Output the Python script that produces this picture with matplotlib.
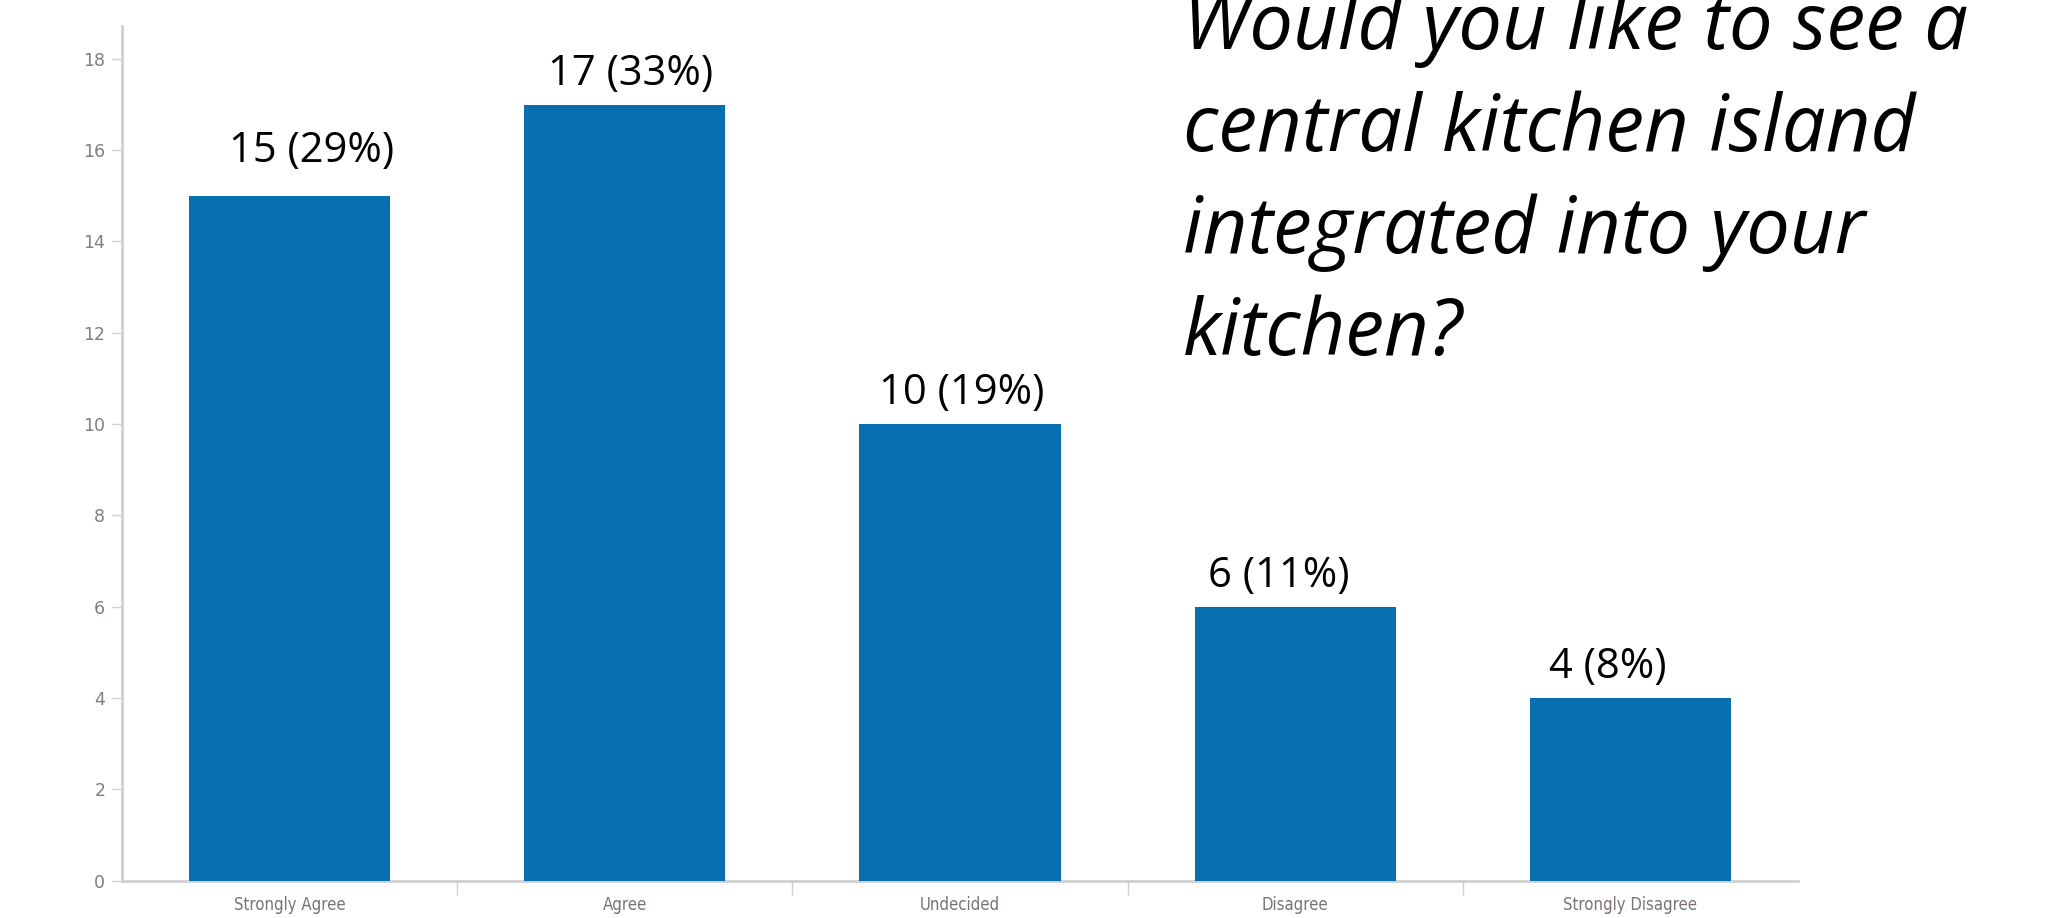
import numpy as np
import matplotlib
matplotlib.use("Agg")
import matplotlib.pyplot as plt

answers = ["Strongly Agree", "Agree", "Undecided", "Disagree", "Strongly Disagree"]
counts = [15, 17, 10, 6, 4]
percents = [29, 33, 19, 11, 8]
yticks = [0, 2, 4, 6, 8, 10, 12, 14, 16, 18]
question = ["Would you like to see a", "central kitchen island",
            "integrated into your", "kitchen?"]

# little nudges (in points) so the count labels sit like the hand-placed originals
label_dx = [16, 4, 1, -12, -16]
label_dy = [10, 0, 0, 0, 0]

bar_color = "#076fb0"
grid_grey = "#d0d0d0"
text_grey = "#857d78"

fig = plt.figure(figsize=(20.61, 9.18), dpi=100)
ax = fig.add_axes([0.0592, 0.0406, 0.8132, 0.9311])

x = np.arange(len(answers))
bars = ax.bar(x, counts, width=0.6, color=bar_color, zorder=3)

ax.set_xlim(-0.5, len(answers) - 0.5)
ax.set_ylim(0, 18.72)

for s in ["top", "right"]:
    ax.spines[s].set_visible(False)
ax.spines["left"].set_color(grid_grey)
ax.spines["left"].set_linewidth(2)
ax.spines["bottom"].set_color(grid_grey)
ax.spines["bottom"].set_linewidth(2)

ax.set_yticks(yticks)
ax.tick_params(axis="y", length=7, width=1, color=grid_grey, pad=5,
               labelsize=12.5, labelcolor=text_grey)

# separators between categories below the axis, names centred under bars
ax.set_xticks(x[:-1] + 0.5)
ax.set_xticklabels([])
ax.tick_params(axis="x", length=10, width=1, color=grid_grey)
ax.set_xticks(x, minor=True)
ax.set_xticklabels(answers, minor=True, fontsize=12, color="#7a7370",
                   family="DejaVu Sans", fontstretch="condensed")
ax.tick_params(axis="x", which="minor", length=0, pad=11)

for i, (b, c, p) in enumerate(zip(bars, counts, percents)):
    ax.annotate(f"{c} ({p}%)", (b.get_x() + b.get_width() / 2, c),
                xytext=(label_dx[i], 7 + label_dy[i]), textcoords="offset points",
                ha="center", va="bottom", fontsize=30, family="Open Sans",
                color="black")

# question text, one line at a time (baselines in pixels from the top)
for k, line in enumerate(question):
    fig.text(0.574, 1 - (49 + 102 * k) / 918, line, ha="left", va="baseline",
             fontsize=56, style="italic", family="Open Sans")

fig.savefig("out.png", dpi=100)
